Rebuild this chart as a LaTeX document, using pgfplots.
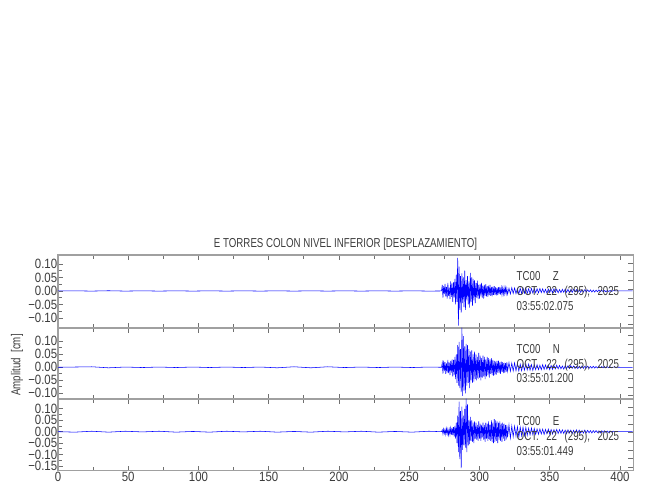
\documentclass[border=0pt]{standalone}
\usepackage{pgfplots}
\usepackage{pgfplotstable}
\pgfplotsset{compat=1.18}
\usepackage{fontspec}
\setmainfont{Liberation Sans}[FakeStretch=0.75]
\newfontfamily\tickfont{Liberation Sans}[FakeStretch=0.85]
\definecolor{txt}{HTML}{3C3C3C}
\definecolor{axg}{HTML}{A0A0A0}
\definecolor{tkg}{HTML}{707070}

\pgfplotstableread{
t Z N E
0 0 0 0
12 0.0005 0.001 -0.002
24 -0.0005 0.002 0.002
36 0.0008 -0.002 -0.002
48 -0.0005 0.001 0.002
60 0.0005 -0.001 -0.001
72 -0.0005 0.001 0.002
84 0.0005 -0.001 -0.002
96 -0.0005 0.001 0.001
108 0.0005 -0.001 -0.002
120 -0.0005 0.001 0.002
132 0.0005 -0.001 -0.001
144 -0.0005 0.001 0.002
156 0.0005 -0.002 -0.002
168 -0.0005 0.002 0.001
180 0.0005 -0.002 -0.002
192 -0.0005 0.002 0.002
204 0.0005 -0.001 -0.001
216 -0.0005 0.001 0.002
228 0.0005 -0.001 -0.002
240 -0.0005 0.001 0.001
252 0.0005 -0.001 -0.002
264 -0.0005 0.001 0.002
273 0 0 0
273.5 0.022 0.018 0.008
274.0 -0.025 -0.024 -0.010
274.5 0.018 0.026 0.012
275.0 -0.012 -0.015 -0.008
275.5 0.026 0.02 0.010
276.0 -0.020 -0.025 -0.012
276.5 0.015 0.015 0.014
277.0 -0.028 -0.02 -0.010
277.5 0.030 0.028 0.012
278.0 -0.018 -0.022 -0.015
278.5 0.012 0.018 0.010
279.0 -0.030 -0.03 -0.012
279.5 0.035 0.025 0.016
280.0 -0.022 -0.02 -0.014
280.5 0.028 0.03 0.018
281.0 -0.040 -0.035 -0.015
281.5 0.032 0.028 0.020
282.0 -0.025 -0.03 -0.022
282.5 0.045 0.04 0.025
283.0 -0.050 -0.045 -0.03
283.5 0.060 0.05 0.04
284.0 -0.040 -0.06 -0.05
284.5 0.122 0.085 0.07
285.0 -0.128 -0.07 -0.09
285.5 0.090 0.098 0.132
286.0 -0.070 -0.08 -0.12
286.5 0.055 0.07 0.09
287.0 -0.080 -0.095 -0.160
287.5 0.065 0.152 0.11
288.0 -0.045 -0.11 -0.08
288.5 0.050 0.12 0.07
289.0 -0.060 -0.09 -0.06
289.5 0.075 0.08 0.10
290.0 -0.070 -0.1 -0.07
290.5 0.040 0.09 0.145
291.0 -0.035 -0.07 -0.09
291.5 0.055 0.085 0.12
292.0 -0.050 -0.06 -0.06
292.5 0.035 0.07 0.05
293.0 -0.062 -0.08 -0.055
293.5 0.067 0.06 0.065
294.0 -0.040 -0.05 -0.04
294.5 0.050 0.065 0.05
295.0 -0.055 -0.06 -0.045
295.5 0.045 0.05 0.04
296.0 -0.035 -0.055 -0.05
296.5 0.040 0.06 0.045
297.0 -0.045 -0.045 -0.03
297.5 0.030 0.05 0.04
298.0 -0.025 -0.05 -0.035
298.5 0.038 0.04 0.03
299.0 -0.030 -0.045 -0.04
299.5 0.022 0.055 0.045
300.0 -0.028 -0.04 -0.03
300.5 0.025 0.045 0.035
301.0 -0.020 -0.05 -0.04
301.5 0.030 0.035 0.03
302.0 -0.025 -0.04 -0.025
302.5 0.020 0.045 0.04
303.0 -0.028 -0.035 -0.035
303.5 0.022 0.04 0.03
304.0 -0.018 -0.045 -0.045
304.5 0.025 0.03 0.04
305.0 -0.020 -0.035 -0.03
305.5 0.018 0.04 0.035
306.0 -0.022 -0.03 -0.04
306.5 0.020 0.035 0.045
307.0 -0.015 -0.04 -0.035
307.5 0.022 0.03 0.03
308.0 -0.018 -0.025 -0.04
308.5 0.015 0.035 0.05
309.0 -0.020 -0.03 -0.045
309.5 0.016 0.028 0.04
310.0 -0.014 -0.032 -0.05
310.5 0.018 0.025 0.055
311.0 -0.015 -0.03 -0.045
311.5 0.014 0.022 0.05
312.0 -0.016 -0.028 -0.04
312.5 0.012 0.025 0.045
313.0 -0.015 -0.02 -0.05
313.5 0.014 0.026 0.04
314.0 -0.012 -0.022 -0.035
314.5 0.015 0.02 0.045
315.0 -0.013 -0.025 -0.04
315.5 0.012 0.022 0.035
316.0 -0.014 -0.018 -0.045
316.5 0.011 0.02 0.04
317.0 -0.012 -0.022 -0.03
317.5 0.013 0.018 0.035
318.0 -0.010 -0.02 -0.04
318.5 0.012 0.016 0.03
319.0 -0.011 -0.018 -0.035
319.5 0.010 0.02 0.03
320.0 -0.012 -0.015 -0.025
321 0.010 0.018 0.03
322 -0.011 -0.015 -0.028
323 0.012 0.016 0.025
324 -0.009 -0.014 -0.022
325 0.011 0.017 0.024
326 -0.010 -0.013 -0.02
327 0.009 0.015 0.022
328 -0.011 -0.014 -0.025
329 0.010 0.012 0.02
330 -0.009 -0.013 -0.018
331 0.011 0.012 0.02
332 -0.008 -0.011 -0.017
333 0.010 0.013 0.018
334 -0.009 -0.01 -0.016
335 0.008 0.012 0.015
336 -0.010 -0.011 -0.014
337 0.009 0.01 0.016
338 -0.008 -0.012 -0.013
339 0.009 0.01 0.014
340 -0.007 -0.009 -0.012
341 0.008 0.010 0.012
342 -0.007 -0.009 -0.011
343 0.009 0.008 0.012
344 -0.006 -0.009 -0.010
345 0.008 0.010 0.011
346 -0.007 -0.008 -0.012
347 0.006 0.009 0.010
348 -0.008 -0.007 -0.009
349 0.007 0.008 0.011
350 -0.006 -0.009 -0.010
351 0.007 0.007 0.009
352 -0.006 -0.008 -0.010
353 0.008 0.007 0.009
354 -0.005 -0.006 -0.008
355 0.006 0.008 0.010
356 -0.007 -0.006 -0.008
357 0.005 0.007 0.009
358 -0.006 -0.006 -0.007
359 0.006 0.005 0.008
360 -0.005 -0.007 -0.008
361 0.007 0.006 0.007
362 -0.005 -0.005 -0.009
363 0.006 0.006 0.008
364 -0.006 -0.005 -0.006
365 0.005 0.006 0.007
366 -0.005 -0.004 -0.008
367 0.006 0.005 0.006
368 -0.004 -0.005 -0.007
369 0.005 0.004 0.008
370 -0.005 -0.005 -0.006
371 0.004 0.004 0.007
372 -0.005 -0.004 -0.006
373 0.004 0.005 0.005
374 -0.004 -0.004 -0.006
375 0.005 0.004 0.007
376 -0.004 -0.003 -0.005
377 0.004 0.004 0.006
378 -0.003 -0.004 -0.005
379 0.004 0.003 0.005
380 -0.004 -0.003 -0.006
381 0.003 0.004 0.005
382 -0.004 -0.003 -0.004
383 0.003 0.003 0.005
384 -0.003 -0.003 -0.004
385 0.004 0.003 0.004
386 -0.003 -0.002 -0.005
387 0.003 0.003 0.004
388 -0.003 -0.002 -0.003
389 0.002 0.003 0.004
390 -0.003 -0.002 -0.003
391 0.002 0.002 0.003
392 -0.002 -0.002 -0.003
393 0.002 0.002 0.003
394 -0.002 -0.002 -0.002
395 0.001 0.001 0.002
400 0 0 0
409 0 0 0
}\seis

\pgfplotsset{
  panel/.style={
    anchor=south west, scale only axis, width=575.3bp,
    xmin=0, xmax=409.5, clip=false,
    axis line style={axg, line width=1.6bp},
    tick style={tkg, line width=0.8bp},
    tick align=inside, major tick length=5bp, minor tick length=4bp,
    xtick={0,50,...,400}, minor x tick num=1, xtick pos=both,
    ytick pos=left, minor y tick num=1,
    ticklabel style={font=\tickfont\fontsize{13.5}{13.5}\selectfont, text=txt},
    xticklabels={}, yticklabel style={inner sep=0.6bp},
    xticklabel style={inner sep=1.5bp},
  },
  rside/.style={
    anchor=south west, scale only axis, width=575.3bp,
    xmin=0, xmax=409.5, ymin=0, ymax=1,
    axis x line=none, axis y line*=right,
    axis line style={axg, line width=1.6bp},
    tick style={tkg, line width=0.8bp}, tick align=inside, major tick length=5bp,
    ytick={0.05,0.17,0.29,0.41,0.53,0.65,0.77,0.89}, yticklabels={},
  },
}
\newcommand{\wsp}{\hspace{7.5bp}}

\begin{document}
\begin{tikzpicture}
\path (0bp,0bp) rectangle (650bp,500bp);

% top panel Z
\begin{axis}[panel, at={(58bp,172bp)}, height=73bp, ymin=-0.137, ymax=0.133,
  ytick={-0.10,-0.05,0,0.05,0.10}, yticklabels={−0.10,−0.05,0.00,0.05,0.10}]
\addplot[blue, line width=0.55bp] table[x=t, y=Z] {\seis};
\end{axis}
\begin{axis}[rside, at={(58bp,172bp)}, height=73bp]
\end{axis}

% middle panel N
\begin{axis}[panel, at={(58bp,100.7bp)}, height=71.3bp, ymin=-0.123, ymax=0.151,
  ytick={-0.10,-0.05,0,0.05,0.10}, yticklabels={−0.10,−0.05,0.00,0.05,0.10}]
\addplot[blue, line width=0.55bp] table[x=t, y=N] {\seis};
\end{axis}
\begin{axis}[rside, at={(58bp,100.7bp)}, height=71.3bp]
\end{axis}

% bottom panel E
\begin{axis}[panel, at={(58bp,29.3bp)}, height=71.4bp, ymin=-0.171, ymax=0.142,
  ytick={-0.15,-0.10,-0.05,0,0.05,0.10}, yticklabels={−0.15,−0.10,−0.05,0.00,0.05,0.10},
  xticklabels={0,50,100,150,200,250,300,350,400}]
\addplot[blue, line width=0.55bp] table[x=t, y=E] {\seis};
\end{axis}
\begin{axis}[rside, at={(58bp,29.3bp)}, height=71.4bp]
\end{axis}

\begin{scope}[every node/.style={text=txt, font=\fontsize{13}{13}\selectfont, inner sep=0pt}]
\node[anchor=base] at (345.5bp,252.5bp) {E TORRES COLON NIVEL INFERIOR [DESPLAZAMIENTO]};
\node[rotate=90] at (17bp,135bp) {Amplitud\ \ [cm]};
% Z
\node[anchor=base west] at (516.5bp,219.3bp) {TC00};
\node[anchor=base west] at (552.7bp,219.3bp) {Z};
\node[anchor=base west] at (516.5bp,204.3bp) {OCT.\wsp 22\wsp (295),\wsp 2025};
\node[anchor=base west] at (516.5bp,189.6bp) {03:55:02.075};
% N
\node[anchor=base west] at (516.5bp,146.3bp) {TC00};
\node[anchor=base west] at (552.7bp,146.3bp) {N};
\node[anchor=base west] at (516.5bp,131.8bp) {OCT.\wsp 22\wsp (295),\wsp 2025};
\node[anchor=base west] at (516.5bp,117.3bp) {03:55:01.200};
% E
\node[anchor=base west] at (516.5bp,74.3bp) {TC00};
\node[anchor=base west] at (552.7bp,74.3bp) {E};
\node[anchor=base west] at (516.5bp,59.3bp) {OCT.\wsp 22\wsp (295),\wsp 2025};
\node[anchor=base west] at (516.5bp,44.3bp) {03:55:01.449};
\end{scope}
\end{tikzpicture}
\end{document}
